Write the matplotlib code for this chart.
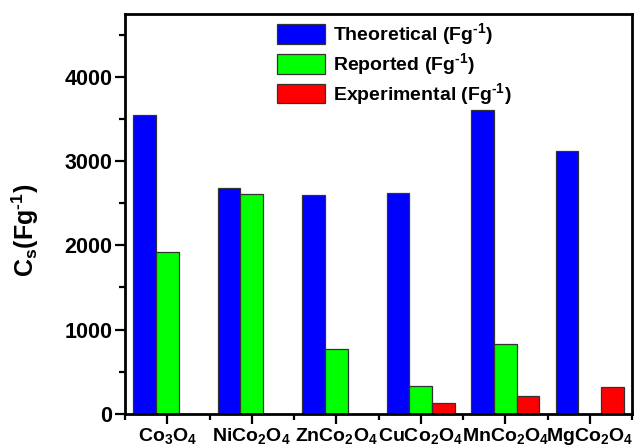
import matplotlib
matplotlib.use('Agg')
import matplotlib.pyplot as plt
import numpy as np

plt.rcParams['font.family'] = ['Liberation Sans', 'DejaVu Sans']
plt.rcParams['font.weight'] = 'bold'
plt.rcParams['mathtext.fontset'] = 'custom'
plt.rcParams['mathtext.rm'] = 'Liberation Sans:bold'
plt.rcParams['mathtext.bf'] = 'Liberation Sans:bold'
plt.rcParams['mathtext.default'] = 'bf'

materials = [r'Co$_3$O$_4$', r'NiCo$_2$O$_4$', r'ZnCo$_2$O$_4$',
             r'CuCo$_2$O$_4$', r'MnCo$_2$O$_4$', r'MgCo$_2$O$_4$']
theoretical = [3550, 2675, 2595, 2615, 3605, 3120]
reported = [1925, 2610, 765, 330, 828, np.nan]
experimental = [np.nan, np.nan, np.nan, 128, 216, 315]

fig = plt.figure(figsize=(6.41, 4.48), dpi=100)
ax = fig.add_axes([0.195, 0.076, 0.791, 0.893])

x = np.arange(1, len(materials) + 1)
w = 0.268
ax.bar(x - w, theoretical, w, color='#0000ff', edgecolor='#333333', linewidth=0.9,
       label=r'Theoretical (Fg$^{\text{-}1}$)')
ax.bar(x, reported, w, color='#00ff00', edgecolor='#333333', linewidth=0.9,
       label=r'Reported (Fg$^{\text{-}1}$)')
ax.bar(x + w, experimental, w, color='#ff0000', edgecolor='#333333', linewidth=0.9,
       label=r'Experimental (Fg$^{\text{-}1}$)')

ax.set_xlim(0.5, 6.5)
ax.set_ylim(0, 4745)
ax.set_xticks(x)
ax.set_xticklabels(materials, fontsize=14)
ax.set_xticks(np.arange(0.5, 7, 1), minor=True)
ax.set_yticks([0, 1000, 2000, 3000, 4000])
ax.set_yticks(np.arange(500, 4600, 1000), minor=True)
ax.tick_params(axis='y', labelsize=15.5)
ax.tick_params(which='major', direction='out', length=7, width=1.6, pad=2)
ax.tick_params(which='minor', direction='out', length=4, width=1.6)
ax.tick_params(top=False, right=False, which='both')
for s in ax.spines.values():
    s.set_linewidth(2)

ax.set_ylabel(r'C$_s$(Fg$^{\text{-}1}$)', fontsize=18, fontweight='bold')
ax.yaxis.set_label_coords(-0.165, 0.46)

fig.legend(loc='upper left', bbox_to_anchor=(0.4317, 0.952), frameon=False,
           fontsize=14, handlelength=2.48, handleheight=1.2, labelspacing=0.2,
           handletextpad=0.4, borderpad=0, borderaxespad=0)

fig.savefig('out.png', dpi=100)
